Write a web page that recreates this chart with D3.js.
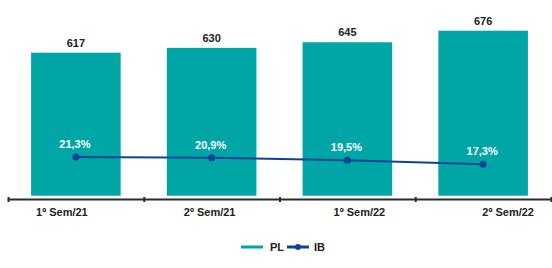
<!DOCTYPE html>
<html>
<head>
<meta charset="utf-8">
<script src="https://cdn.jsdelivr.net/npm/d3@7"></script>
<style>
  body { margin: 0; background: #fff; }
  text { font-family: "Liberation Sans", Arial, sans-serif; }
</style>
</head>
<body>
<svg width="552" height="268"></svg>
<script>
// data
var categories = ["1º Sem/21", "2º Sem/21", "1º Sem/22", "2º Sem/22"],
    plValues = [617, 630, 645, 676],
    ibValues = [21.3, 20.9, 19.5, 17.3],
    seriesNames = ["PL", "IB"];

// colors
var colorBar = "#00a5a5",
    colorLine = "#0c4397",
    colorText = "#222",
    colorAxis = "#2b2b2b";

// the category labels sit a bit off the band centres in the original
var labelShift = [-14, -2, 12, 25];

var svg = d3.select("svg");

var x = d3.scaleBand()
    .domain(categories)
    .range([8, 551])
    .paddingInner(0.34)
    .paddingOuter(0.17);

var edge = d3.scaleLinear().domain([0, categories.length]).range([8, 551]);

var yBar = d3.scaleLinear().domain([233.5, 676]).range([195.7, 30.7]);
var yLine = d3.scaleLinear().domain([0, 90]).range([196, 31]);

var cx = function(c) { return x(c) + x.bandwidth() / 2; };
var fmtPct = function(v) { return v.toFixed(1).replace(".", ",") + "%"; };

// bars
svg.append("g").selectAll("rect")
    .data(plValues)
    .join("rect")
    .attr("x", function(d, i) { return x(categories[i]); })
    .attr("y", function(d) { return yBar(d); })
    .attr("width", x.bandwidth())
    .attr("height", function(d) { return yBar.range()[0] - yBar(d); })
    .attr("fill", colorBar);

svg.append("g").selectAll("text")
    .data(plValues)
    .join("text")
    .attr("x", function(d, i) { return cx(categories[i]); })
    .attr("y", function(d) { return yBar(d) - 6; })
    .attr("text-anchor", "middle")
    .attr("font-size", 11)
    .attr("font-weight", "bold")
    .attr("fill", colorText)
    .text(function(d) { return d; });

// axis
var axis = svg.append("g")
    .attr("transform", "translate(0,199)")
    .call(d3.axisBottom(edge).tickValues(d3.range(categories.length + 1)).tickSize(0).tickFormat(""));
axis.select(".domain").attr("stroke", colorAxis).attr("stroke-width", 2);
axis.selectAll(".tick line")
    .attr("y1", -2).attr("y2", 3)
    .attr("stroke", colorAxis).attr("stroke-width", 2);

svg.append("g").selectAll("text")
    .data(categories)
    .join("text")
    .attr("x", function(d, i) { return cx(d) + labelShift[i]; })
    .attr("y", 216)
    .attr("text-anchor", "middle")
    .attr("font-size", 11)
    .attr("font-weight", "bold")
    .attr("fill", colorText)
    .text(function(d) { return d; });

// line
var line = d3.line()
    .x(function(d, i) { return cx(categories[i]); })
    .y(function(d) { return yLine(d); });

svg.append("path")
    .datum(ibValues)
    .attr("d", line)
    .attr("fill", "none")
    .attr("stroke", colorLine)
    .attr("stroke-width", 2);

svg.append("g").selectAll("circle")
    .data(ibValues)
    .join("circle")
    .attr("cx", function(d, i) { return cx(categories[i]); })
    .attr("cy", function(d) { return yLine(d); })
    .attr("r", 3.5)
    .attr("fill", colorLine);

svg.append("g").selectAll("text")
    .data(ibValues)
    .join("text")
    .attr("x", function(d, i) { return cx(categories[i]) - 1; })
    .attr("y", function(d) { return yLine(d) - 9; })
    .attr("text-anchor", "middle")
    .attr("font-size", 11)
    .attr("font-weight", "bold")
    .attr("fill", "#fff")
    .text(fmtPct);

// legend
var legend = svg.append("g").attr("transform", "translate(241,247)");
legend.append("line")
    .attr("x1", 0).attr("x2", 22)
    .attr("stroke", colorBar).attr("stroke-width", 3);
legend.append("text")
    .attr("x", 29).attr("y", 4)
    .attr("font-size", 11).attr("font-weight", "bold").attr("fill", colorText)
    .text(seriesNames[0]);
legend.append("line")
    .attr("x1", 46).attr("x2", 68)
    .attr("stroke", colorLine).attr("stroke-width", 3);
legend.append("circle")
    .attr("cx", 57).attr("r", 3)
    .attr("fill", colorLine);
legend.append("text")
    .attr("x", 73).attr("y", 4)
    .attr("font-size", 11).attr("font-weight", "bold").attr("fill", colorText)
    .text(seriesNames[1]);
</script>
</body>
</html>
